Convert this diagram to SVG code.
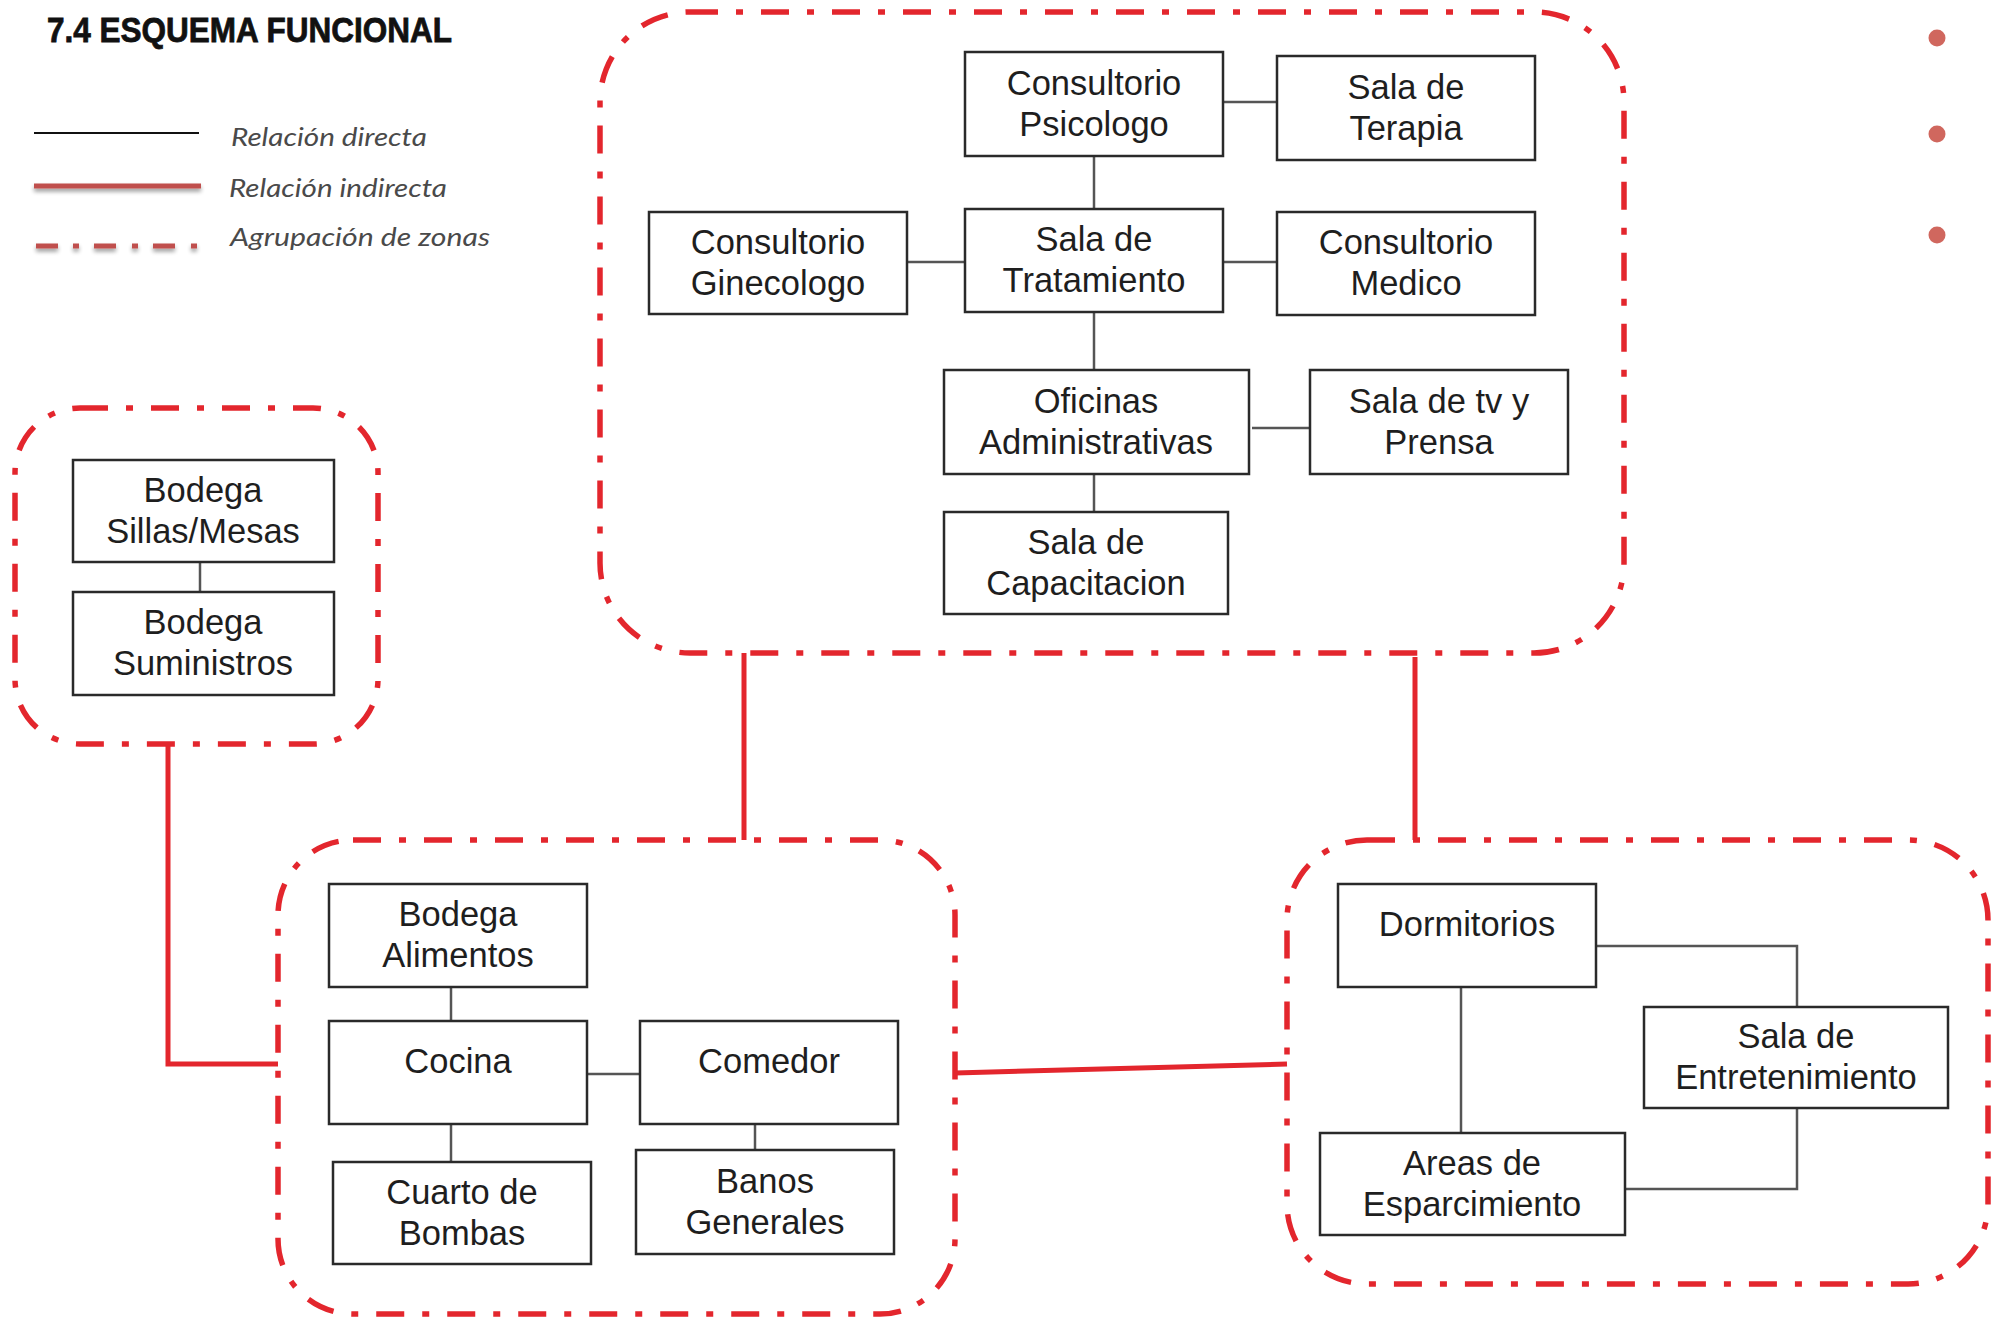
<svg xmlns="http://www.w3.org/2000/svg" width="2002" height="1322" viewBox="0 0 2002 1322">
<defs>
<style>
.box{fill:#fff;stroke:#2a2a2a;stroke-width:2.5}
.t{font-family:"Liberation Sans",Arial,sans-serif;font-size:34.5px;fill:#1e1e1e;text-anchor:middle}
.c{stroke:#555;stroke-width:2.5;fill:none}
.r{stroke:#e3262d;stroke-width:5;fill:none}
.zone{fill:none;stroke:#e3262d;stroke-width:5.5;stroke-dasharray:28 18 7 18}
.leg{font-family:"Lato","Liberation Sans",sans-serif;font-style:italic;font-size:25px;fill:#4a4a4a}
.lr{fill:#c0504d}
</style>
<filter id="sh" filterUnits="userSpaceOnUse" x="0" y="160" width="240" height="110">
<feGaussianBlur in="SourceAlpha" stdDeviation="2"/>
<feOffset dy="3"/>
<feComponentTransfer><feFuncA type="linear" slope="0.4"/></feComponentTransfer>
<feMerge><feMergeNode/><feMergeNode in="SourceGraphic"/></feMerge>
</filter>
</defs>
<rect width="2002" height="1322" fill="#fff"/>

<g id="legend">
<text x="47" y="42" font-family="Liberation Sans,Arial,sans-serif" font-weight="bold" font-size="35" fill="#111" stroke="#111" stroke-width="0.8" textLength="405" lengthAdjust="spacingAndGlyphs">7.4 ESQUEMA FUNCIONAL</text>
<line x1="34" y1="133" x2="199" y2="133" stroke="#111" stroke-width="2"/>
<text class="leg" x="231" y="146" textLength="196" lengthAdjust="spacingAndGlyphs">Relación directa</text>
<g filter="url(#sh)">
<rect class="lr" x="34" y="183.5" width="167" height="5"/>
<rect class="lr" x="36" y="243.5" width="22" height="5"/>
<rect class="lr" x="73" y="243.5" width="6" height="5"/>
<rect class="lr" x="94" y="243.5" width="22" height="5"/>
<rect class="lr" x="132" y="243.5" width="6" height="5"/>
<rect class="lr" x="153" y="243.5" width="22" height="5"/>
<rect class="lr" x="191" y="243.5" width="6" height="5"/>
</g>
<text class="leg" x="229" y="197" textLength="218" lengthAdjust="spacingAndGlyphs">Relación indirecta</text>
<text class="leg" x="230" y="246" textLength="260" lengthAdjust="spacingAndGlyphs">Agrupación de zonas</text>
<circle cx="1937" cy="38" r="8.5" fill="#d0675e"/>
<circle cx="1937" cy="134" r="8.5" fill="#d0675e"/>
<circle cx="1937" cy="235" r="8.5" fill="#d0675e"/>
</g>

<g id="zones">
<rect id="zone-top" class="zone" x="600" y="12" width="1024" height="641" rx="90"/>
<rect id="zone-left" class="zone" x="15" y="408" width="363" height="336" rx="65"/>
<rect id="zone-bottom-left" class="zone" x="278" y="840" width="677" height="474" rx="75"/>
<rect id="zone-bottom-right" class="zone" x="1287" y="840" width="701" height="444" rx="80"/>
</g>

<g id="connectors">
<line class="c" x1="1223" y1="102" x2="1277" y2="102"/>
<line class="c" x1="1094" y1="156" x2="1094" y2="209"/>
<line class="c" x1="907" y1="262" x2="965" y2="262"/>
<line class="c" x1="1223" y1="262" x2="1277" y2="262"/>
<line class="c" x1="1094" y1="312" x2="1094" y2="370"/>
<line class="c" x1="1252" y1="428" x2="1310" y2="428"/>
<line class="c" x1="1094" y1="474" x2="1094" y2="512"/>
<line class="c" x1="200" y1="562" x2="200" y2="592"/>
<line class="c" x1="451" y1="987" x2="451" y2="1021"/>
<line class="c" x1="587" y1="1074" x2="640" y2="1074"/>
<line class="c" x1="451" y1="1124" x2="451" y2="1162"/>
<line class="c" x1="755" y1="1124" x2="755" y2="1150"/>
<line class="c" x1="1461" y1="987" x2="1461" y2="1133"/>
<path class="c" d="M1596 946 H1797 V1007"/>
<path class="c" d="M1797 1108 V1189 H1625"/>
<path class="r" d="M168 744 V1064 H278"/>
<line class="r" x1="744" y1="653" x2="744" y2="840"/>
<line class="r" x1="1415" y1="657" x2="1415" y2="840"/>
<line class="r" x1="955" y1="1073" x2="1287" y2="1064"/>
</g>

<g id="n-psicologo"><rect class="box" x="965" y="52" width="258" height="104"/><text class="t" x="1094" y="95">Consultorio</text><text class="t" x="1094" y="136">Psicologo</text></g>
<g id="n-terapia"><rect class="box" x="1277" y="56" width="258" height="104"/><text class="t" x="1406" y="99">Sala de</text><text class="t" x="1406" y="140">Terapia</text></g>
<g id="n-ginecologo"><rect class="box" x="649" y="212" width="258" height="102"/><text class="t" x="778" y="254">Consultorio</text><text class="t" x="778" y="295">Ginecologo</text></g>
<g id="n-tratamiento"><rect class="box" x="965" y="209" width="258" height="103"/><text class="t" x="1094" y="251">Sala de</text><text class="t" x="1094" y="292">Tratamiento</text></g>
<g id="n-medico"><rect class="box" x="1277" y="212" width="258" height="103"/><text class="t" x="1406" y="254">Consultorio</text><text class="t" x="1406" y="295">Medico</text></g>
<g id="n-oficinas"><rect class="box" x="944" y="370" width="305" height="104"/><text class="t" x="1096" y="413">Oficinas</text><text class="t" x="1096" y="454">Administrativas</text></g>
<g id="n-tv"><rect class="box" x="1310" y="370" width="258" height="104"/><text class="t" x="1439" y="413">Sala de tv y</text><text class="t" x="1439" y="454">Prensa</text></g>
<g id="n-capacitacion"><rect class="box" x="944" y="512" width="284" height="102"/><text class="t" x="1086" y="554">Sala de</text><text class="t" x="1086" y="595">Capacitacion</text></g>
<g id="n-sillas"><rect class="box" x="73" y="460" width="261" height="102"/><text class="t" x="203" y="502">Bodega</text><text class="t" x="203" y="543">Sillas/Mesas</text></g>
<g id="n-suministros"><rect class="box" x="73" y="592" width="261" height="103"/><text class="t" x="203" y="634">Bodega</text><text class="t" x="203" y="675">Suministros</text></g>
<g id="n-alimentos"><rect class="box" x="329" y="884" width="258" height="103"/><text class="t" x="458" y="926">Bodega</text><text class="t" x="458" y="967">Alimentos</text></g>
<g id="n-cocina"><rect class="box" x="329" y="1021" width="258" height="103"/><text class="t" x="458" y="1073">Cocina</text></g>
<g id="n-comedor"><rect class="box" x="640" y="1021" width="258" height="103"/><text class="t" x="769" y="1073">Comedor</text></g>
<g id="n-bombas"><rect class="box" x="333" y="1162" width="258" height="102"/><text class="t" x="462" y="1204">Cuarto de</text><text class="t" x="462" y="1245">Bombas</text></g>
<g id="n-banos"><rect class="box" x="636" y="1150" width="258" height="104"/><text class="t" x="765" y="1193">Banos</text><text class="t" x="765" y="1234">Generales</text></g>
<g id="n-dormitorios"><rect class="box" x="1338" y="884" width="258" height="103"/><text class="t" x="1467" y="936">Dormitorios</text></g>
<g id="n-entretenimiento"><rect class="box" x="1644" y="1007" width="304" height="101"/><text class="t" x="1796" y="1048">Sala de</text><text class="t" x="1796" y="1089">Entretenimiento</text></g>
<g id="n-esparcimiento"><rect class="box" x="1320" y="1133" width="305" height="102"/><text class="t" x="1472" y="1175">Areas de</text><text class="t" x="1472" y="1216">Esparcimiento</text></g>
</svg>
